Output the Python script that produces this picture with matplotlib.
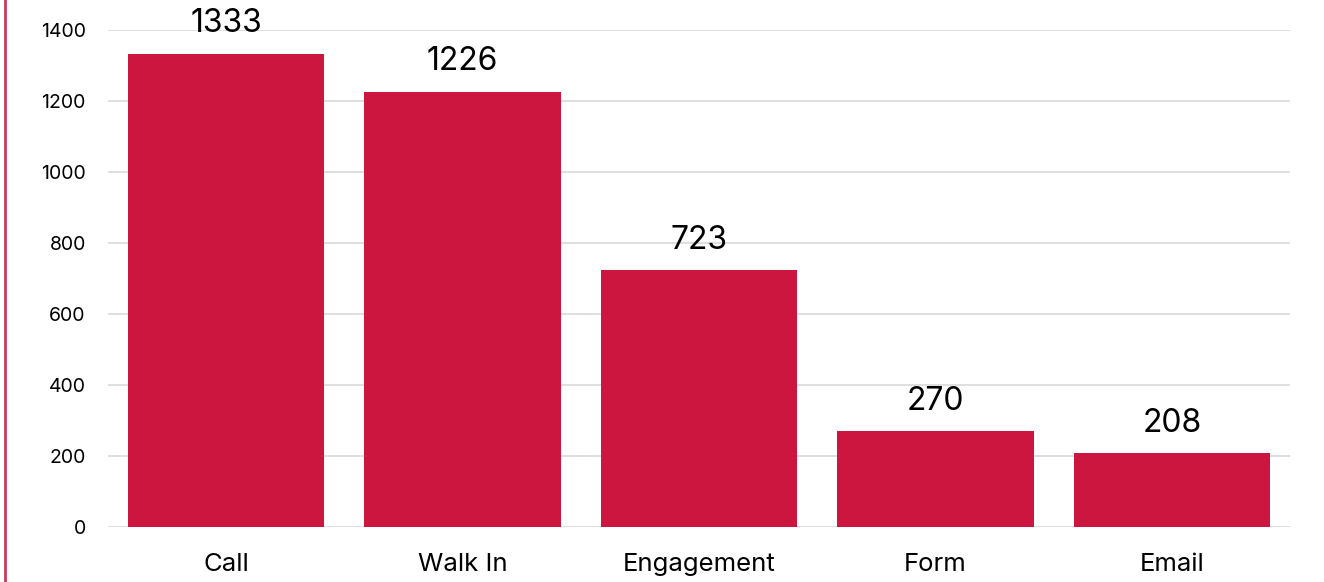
import matplotlib.pyplot as plt
from matplotlib.lines import Line2D

channels = ['Call', 'Walk In', 'Engagement', 'Form', 'Email']
counts = [1333, 1226, 723, 270, 208]
yticks = [0, 200, 400, 600, 800, 1000, 1200, 1400]

plt.rcParams['font.family'] = ['Inter', 'DejaVu Sans']

fig = plt.figure(figsize=(13.24, 5.82), dpi=100)
ax = fig.add_axes([108 / 1324, 1 - 527 / 582, 1182 / 1324, 497 / 582])

bars = ax.bar(channels, counts, width=0.83, color='#CC163F', zorder=3)
ax.bar_label(bars, labels=[str(c) for c in counts], padding=10.5, fontsize=23, color='black')

ax.set_xlim(-0.5, 4.5)
ax.set_ylim(0, 1400)
ax.set_yticks(yticks)
ax.yaxis.grid(True, color='#D9D9D9', linewidth=1.2, zorder=0)
ax.tick_params(axis='y', length=0, labelsize=14, pad=16)
ax.tick_params(axis='x', length=0, labelsize=18.5, pad=19)
for s in ax.spines.values():
    s.set_visible(False)
for t in ax.texts:
    t.set_clip_on(False)

# thin red rule down the left edge
fig.add_artist(Line2D([4.5 / 1324, 4.5 / 1324], [0, 1], color='#C8385A', linewidth=2))

fig.savefig('out.png', dpi=100)
